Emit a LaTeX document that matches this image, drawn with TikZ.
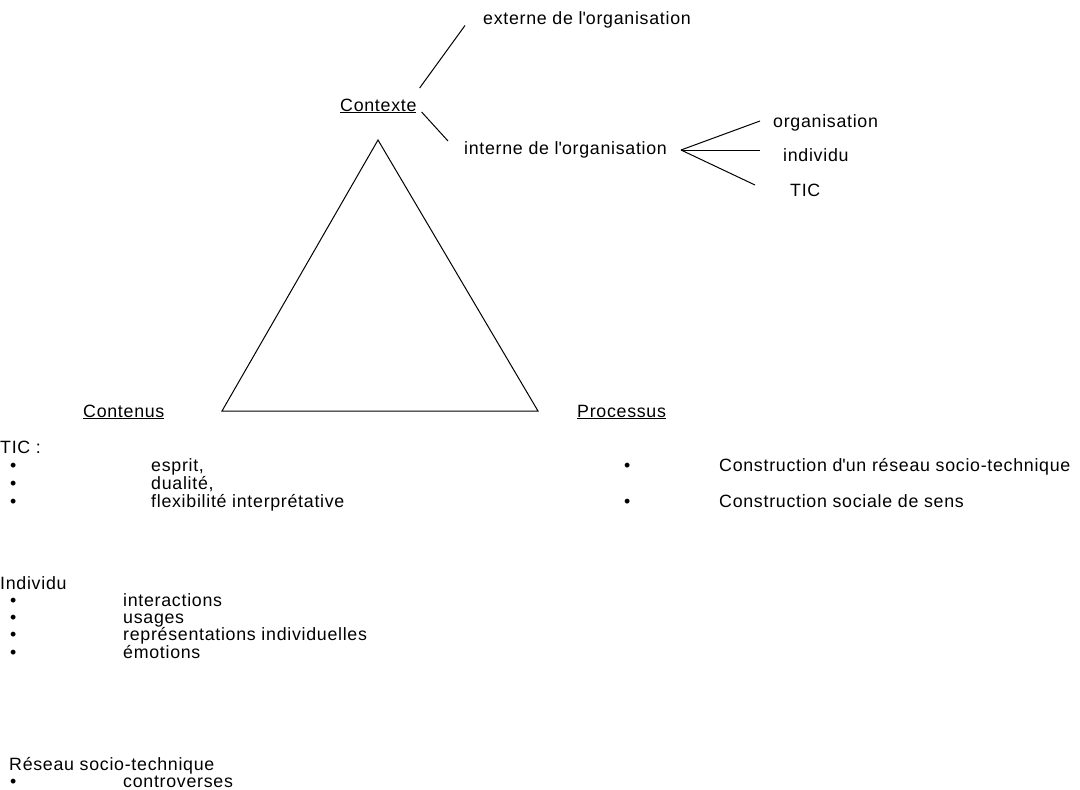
\documentclass[tikz,border=0pt]{standalone}
\usepackage{fontspec}
\setmainfont{Liberation Sans}[LetterSpace=4]
\usepackage{tikz}
\tikzset{
	txt/.style = {anchor=base west, inner sep=0pt, text height=13pt, text depth=4pt, font=\fontsize{17.8}{20}\selectfont},
	trait/.style = {line width=1pt, black}
}
\newcommand{\apos}{\textquotesingle}

\begin{document}
\begin{tikzpicture}[x=1pt, y=-1pt]
		\useasboundingbox (0, 0) rectangle (1080, 790);

		% triangle
		\draw[trait, line join=miter] (378, 140) -- (222, 411) -- (538, 411) -- cycle;

		% contexte
		\node[txt] (ctx) at (340, 111) {\underline{Contexte}};
		\node[txt] (ext) at (483, 24) {externe de l\apos organisation};
		\node[txt] (int) at (464, 154) {interne de l\apos organisation};
		\node[txt] (org) at (773, 127) {organisation};
		\node[txt] (ind) at (783, 161) {individu};
		\node[txt] (tic) at (790, 196) {TIC};
		\coordinate (fan) at (681, 150);

		\draw[trait] ([xshift=3pt, yshift=18.5pt]ctx.east) -- ([xshift=-18pt, yshift=-6pt]ext.west);
		\draw[trait] ([xshift=5pt, yshift=-5.5pt]ctx.east) -- ([xshift=-16pt, yshift=8.5pt]int.west);
		\draw[trait] (fan) -- ([xshift=-13pt, yshift=1.5pt]org.west);
		\draw[trait] (fan) -- ([xshift=-23pt, yshift=6.5pt]ind.west);
		\draw[trait] (fan) -- ([xshift=-35pt, yshift=6.5pt]tic.west);

		% sommets du bas
		\node[txt] (cnt) at (83, 417) {\underline{Contenus}};
		\node[txt] (prc) at (577, 417) {\underline{Processus}};

		% contenus : TIC
		\node[txt] (ticc) at (0, 453) {TIC :};
		\foreach \y/\t [count=\i] in {471/{esprit,}, 489/{dualité,}, 507/{flexibilité interprétative}} {
			\node[txt] (tb\i) at (10, \y) {•};
			\node[txt] (tt\i) at (151, \y) {\t};
		}

		% processus
		\foreach \y/\t [count=\i] in {471/{Construction d\apos un réseau socio-technique}, 507/{Construction sociale de sens}} {
			\node[txt] (pb\i) at (624, \y) {•};
			\node[txt] (pt\i) at (719, \y) {\t};
		}

		% contenus : individu
		\node[txt] (indv) at (0, 589) {Individu};
		\foreach \y/\t [count=\i] in {606/interactions, 623/usages, 640/{représentations individuelles}, 658/émotions} {
			\node[txt] (ib\i) at (10, \y) {•};
			\node[txt] (it\i) at (123, \y) {\t};
		}

		% contenus : reseau
		\node[txt] (rst) at (9, 770) {Réseau socio-technique};
		\node[txt] (rb1) at (10, 787) {•};
		\node[txt] (rt1) at (123, 787) {controverses};

	\end{tikzpicture}
\end{document}
